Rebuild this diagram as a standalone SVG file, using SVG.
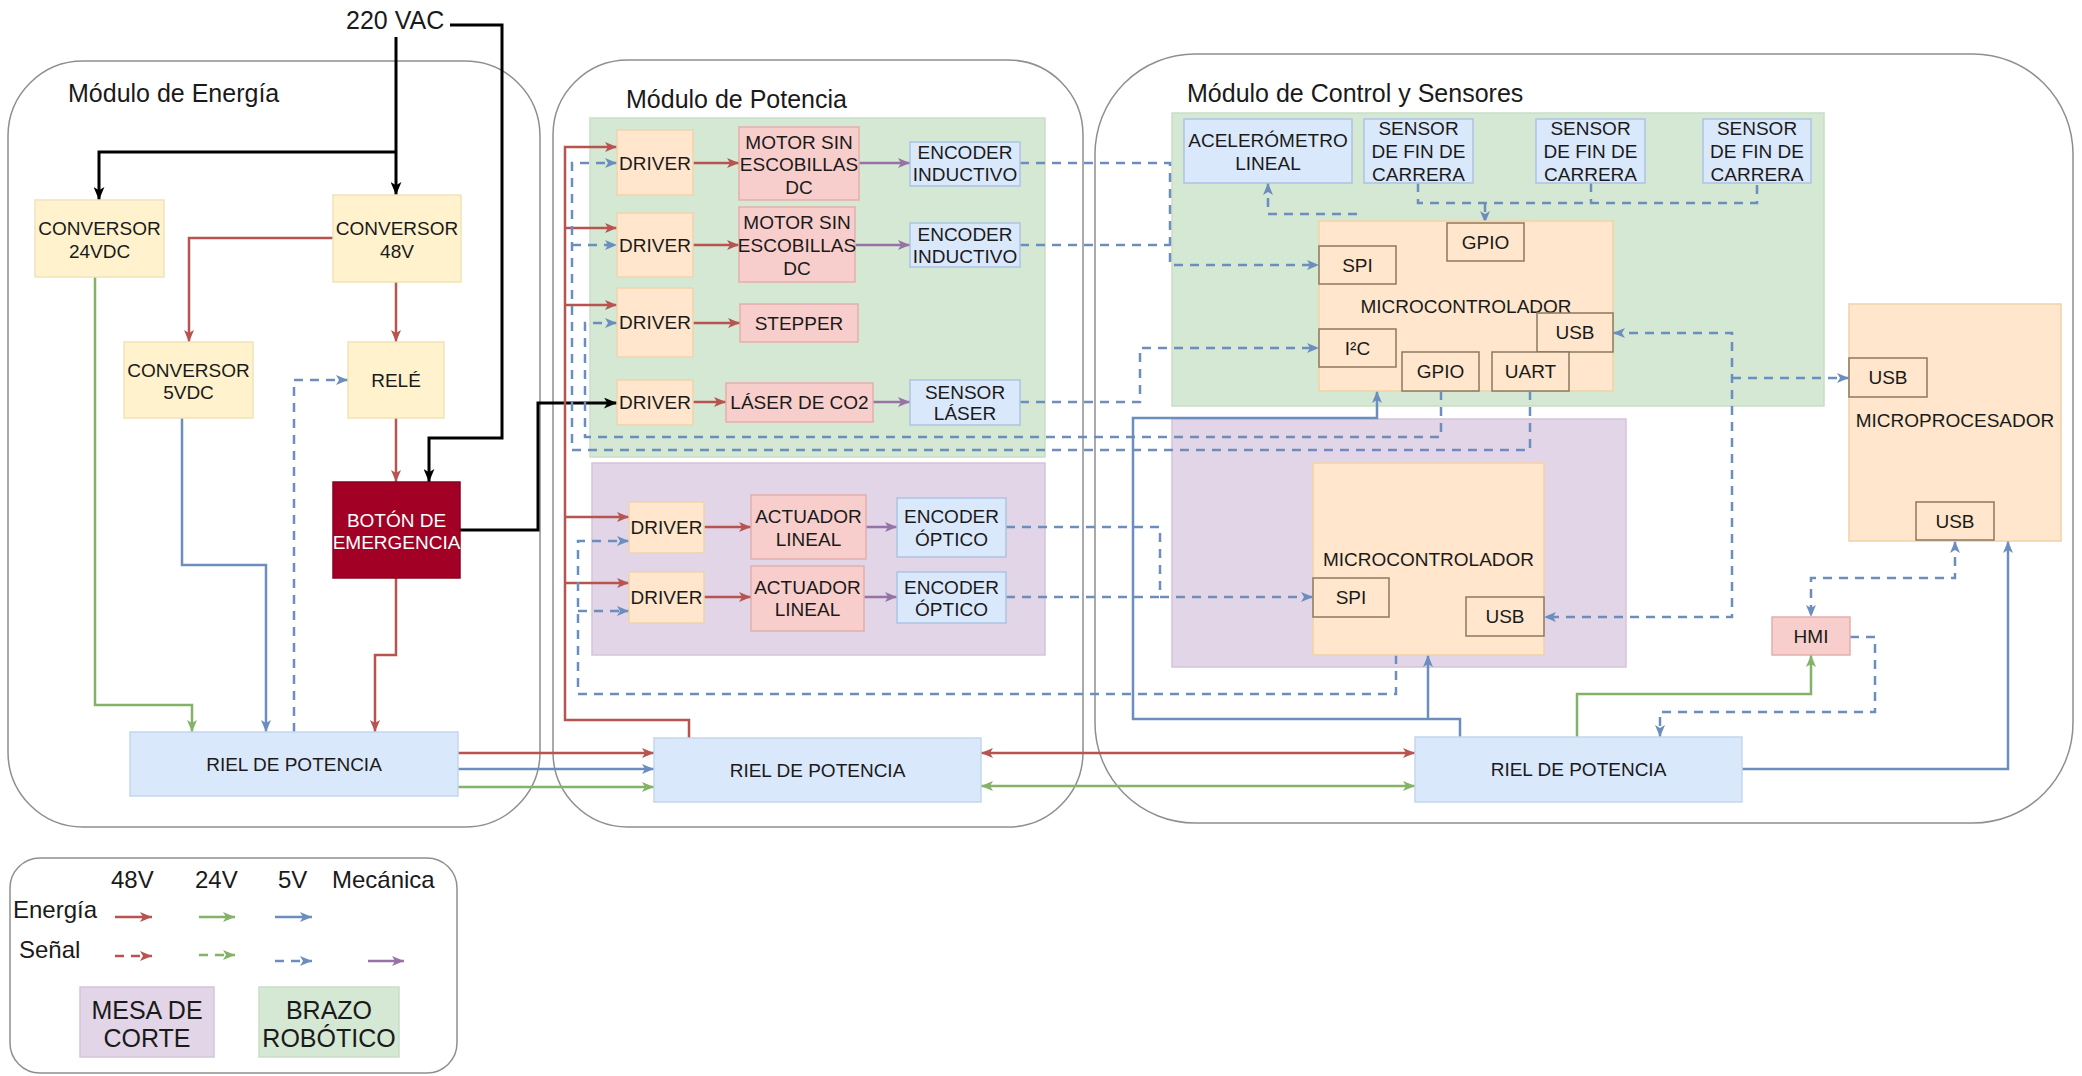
<svg xmlns="http://www.w3.org/2000/svg" width="2082" height="1076" viewBox="0 0 2082 1076">
<defs>
<style>
.mod{fill:#fff;stroke:#8f8f8f;stroke-width:1.5}
.t{font-family:"Liberation Sans",Arial,Helvetica,sans-serif;font-size:19px;fill:#1a1a1a;text-anchor:middle}
.ttl{font-family:"Liberation Sans",Arial,Helvetica,sans-serif;font-size:25px;fill:#1a1a1a}
.lg{font-family:"Liberation Sans",Arial,Helvetica,sans-serif;font-size:24px;fill:#1a1a1a}
.lb{font-family:"Liberation Sans",Arial,Helvetica,sans-serif;font-size:25px;fill:#1a1a1a;text-anchor:middle}
.conv{fill:#fff2cc;stroke:#f1e2b8;stroke-width:1.5}
.drv{fill:#ffe6cc;stroke:#f0d3ae;stroke-width:1.5}
.mot{fill:#f8cecc;stroke:#e3aeab;stroke-width:1.5}
.enc{fill:#dae8fc;stroke:#adc3e2;stroke-width:1.5}
.riel{fill:#dae8fc;stroke:#c4d6ee;stroke-width:1.5}
.big{fill:#ffe6cc;stroke:#f2d2a6;stroke-width:1.5}
.port{fill:#ffe6cc;stroke:#8c7860;stroke-width:1.5}
.ga{fill:#d5e8d4;stroke:#c8dec6;stroke-width:1.5}
.pa{fill:#e1d5e7;stroke:#d3c4db;stroke-width:1.5}
.ln{fill:none;stroke-width:2.5;stroke-linejoin:miter}
.r{stroke:#b85450}
.g{stroke:#82b366}
.b{stroke:#6c8ebf}
.p{stroke:#9673a6}
.k{stroke:#000;stroke-width:3}
.d{stroke-dasharray:9 7}
</style>
<marker id="ar" viewBox="0 0 12 10" refX="12" refY="5" markerWidth="12" markerHeight="10" markerUnits="userSpaceOnUse" orient="auto-start-reverse"><path d="M0,0 L12,5 L0,10 L3,5 Z" fill="#b85450"/></marker>
<marker id="ag" viewBox="0 0 12 10" refX="12" refY="5" markerWidth="12" markerHeight="10" markerUnits="userSpaceOnUse" orient="auto-start-reverse"><path d="M0,0 L12,5 L0,10 L3,5 Z" fill="#82b366"/></marker>
<marker id="ab" viewBox="0 0 12 10" refX="12" refY="5" markerWidth="12" markerHeight="10" markerUnits="userSpaceOnUse" orient="auto-start-reverse"><path d="M0,0 L12,5 L0,10 L3,5 Z" fill="#6c8ebf"/></marker>
<marker id="ap" viewBox="0 0 12 10" refX="12" refY="5" markerWidth="12" markerHeight="10" markerUnits="userSpaceOnUse" orient="auto-start-reverse"><path d="M0,0 L12,5 L0,10 L3,5 Z" fill="#9673a6"/></marker>
<marker id="ak" viewBox="0 0 12 10" refX="12" refY="5" markerWidth="13" markerHeight="11" markerUnits="userSpaceOnUse" orient="auto-start-reverse"><path d="M0,0 L12,5 L0,10 L3,5 Z" fill="#000"/></marker>
</defs>
<rect width="2082" height="1076" fill="#fff"/>

<!-- Modules -->
<g id="modulo-energia">
<rect class="mod" x="8" y="61" width="532" height="766" rx="75"/>
<text class="ttl" x="68" y="102">Módulo de Energía</text>
</g>
<g id="modulo-potencia">
<rect class="mod" x="553" y="60" width="530" height="767" rx="75"/>
<text class="ttl" x="626" y="108">Módulo de Potencia</text>
</g>
<g id="modulo-control">
<rect class="mod" x="1095" y="54" width="978" height="769" rx="100"/>
<text class="ttl" x="1187" y="102">Módulo de Control y Sensores</text>
</g>
<g id="area-brazo-potencia"><rect class="ga" x="590" y="118" width="455" height="339"/></g>
<g id="area-mesa-potencia"><rect class="pa" x="592" y="463" width="453" height="192"/></g>
<g id="area-brazo-control"><rect class="ga" x="1172" y="113" width="652" height="293"/></g>
<g id="area-mesa-control"><rect class="pa" x="1172" y="419" width="454" height="248"/></g>

<text id="label-220vac" class="ttl" x="346" y="29">220 VAC</text>

<!-- Connectors -->
<g id="connectors">
<!-- 220 VAC -->
<path class="ln k" d="M396,37 V195" marker-end="url(#ak)"/>
<path class="ln k" d="M396,152 H99 V200" marker-end="url(#ak)"/>
<path class="ln k" d="M450,25 H502 V438 H429 V482" marker-end="url(#ak)"/>
<path class="ln k" d="M460,530 H538 V403 H617" marker-end="url(#ak)"/>
<!-- Energia -->
<path class="ln r" d="M333,238 H189 V342" marker-end="url(#ar)"/>
<path class="ln r" d="M396,282 V342" marker-end="url(#ar)"/>
<path class="ln r" d="M396,418 V482" marker-end="url(#ar)"/>
<path class="ln r" d="M396,578 V655 H375 V732" marker-end="url(#ar)"/>
<path class="ln g" d="M95,277 V705 H192 V732" marker-end="url(#ag)"/>
<path class="ln b" d="M182,418 V565 H266 V732" marker-end="url(#ab)"/>
<path class="ln b d" d="M294,732 V380 H348" marker-end="url(#ab)"/>
<!-- Rieles -->
<path class="ln r" d="M458,753 H654" marker-end="url(#ar)"/>
<path class="ln b" d="M458,769 H654" marker-end="url(#ab)"/>
<path class="ln g" d="M458,787 H654" marker-end="url(#ag)"/>
<path class="ln r" d="M981,753 H1415" marker-start="url(#ar)" marker-end="url(#ar)"/>
<path class="ln g" d="M981,786 H1415" marker-start="url(#ag)" marker-end="url(#ag)"/>
<!-- Potencia power -->
<path class="ln r" d="M689,738 V720 H565 V147 H617" marker-end="url(#ar)"/>
<path class="ln r" d="M565,228 H617" marker-end="url(#ar)"/>
<path class="ln r" d="M565,305 H617" marker-end="url(#ar)"/>
<path class="ln r" d="M565,517 H629" marker-end="url(#ar)"/>
<path class="ln r" d="M565,583 H629" marker-end="url(#ar)"/>
<!-- Driver to actuator -->
<path class="ln r" d="M693,163 H739" marker-end="url(#ar)"/>
<path class="ln r" d="M693,245 H739" marker-end="url(#ar)"/>
<path class="ln r" d="M693,323 H740" marker-end="url(#ar)"/>
<path class="ln r" d="M693,402 H726" marker-end="url(#ar)"/>
<path class="ln r" d="M704,527 H751" marker-end="url(#ar)"/>
<path class="ln r" d="M704,597 H751" marker-end="url(#ar)"/>
<!-- Mechanical -->
<path class="ln p" d="M859,163 H910" marker-end="url(#ap)"/>
<path class="ln p" d="M855,245 H910" marker-end="url(#ap)"/>
<path class="ln p" d="M873,402 H910" marker-end="url(#ap)"/>
<path class="ln p" d="M866,527 H897" marker-end="url(#ap)"/>
<path class="ln p" d="M864,597 H897" marker-end="url(#ap)"/>
<!-- Signals to drivers -->
<path class="ln b d" d="M1530,391 V450 H572 V163 H617" marker-end="url(#ab)"/>
<path class="ln b d" d="M572,245 H617" marker-end="url(#ab)"/>
<path class="ln b d" d="M1441,391 V437 H585 V323 H617" marker-end="url(#ab)"/>
<path class="ln b d" d="M1396,655 V694 H578 V541 H629" marker-end="url(#ab)"/>
<path class="ln b d" d="M578,611 H629" marker-end="url(#ab)"/>
<!-- Sensor signals -->
<path class="ln b d" d="M1020,163 H1170 V265 H1319" marker-end="url(#ab)"/>
<path class="ln b d" d="M1020,245 H1170"/>
<path class="ln b d" d="M1020,402 H1140 V348 H1319" marker-end="url(#ab)"/>
<path class="ln b d" d="M1006,527 H1160 V597 H1313" marker-end="url(#ab)"/>
<path class="ln b d" d="M1006,597 H1160"/>
<path class="ln b d" d="M1357,246 V214 H1268 V183" marker-end="url(#ab)"/>
<path class="ln b d" d="M1418,183 V203 H1757 V183"/>
<path class="ln b d" d="M1591,183 V203"/>
<path class="ln b d" d="M1485,203 V223" marker-end="url(#ab)"/>
<!-- USB -->
<path class="ln b d" d="M1613,333 H1732 V617 H1544" marker-start="url(#ab)" marker-end="url(#ab)"/>
<path class="ln b d" d="M1732,378 H1849" marker-end="url(#ab)"/>
<path class="ln b d" d="M1955,541 V578 H1811 V617" marker-start="url(#ab)" marker-end="url(#ab)"/>
<path class="ln b d" d="M1850,637 H1875 V712 H1660 V737" marker-end="url(#ab)"/>
<!-- Control power -->
<path class="ln b" d="M1460,737 V719 H1133 V418 H1377 V391" marker-end="url(#ab)"/>
<path class="ln b" d="M1428,719 V655" marker-end="url(#ab)"/>
<path class="ln b" d="M1742,769 H2008 V541" marker-end="url(#ab)"/>
<path class="ln g" d="M1577,737 V694 H1811 V655" marker-end="url(#ag)"/>
</g>

<!-- Energia nodes -->
<g id="conversor-24vdc"><rect class="conv" x="35" y="200" width="129" height="77"/><text class="t" x="99.5" y="235">CONVERSOR</text><text class="t" x="99.5" y="258">24VDC</text></g>
<g id="conversor-48v"><rect class="conv" x="333" y="195" width="128" height="87"/><text class="t" x="397" y="235">CONVERSOR</text><text class="t" x="397" y="258">48V</text></g>
<g id="conversor-5vdc"><rect class="conv" x="124" y="342" width="129" height="76"/><text class="t" x="188.5" y="377">CONVERSOR</text><text class="t" x="188.5" y="399">5VDC</text></g>
<g id="rele"><rect class="conv" x="348" y="342" width="96" height="76"/><text class="t" x="396" y="387">RELÉ</text></g>
<g id="boton-emergencia"><rect x="333" y="482" width="127" height="96" fill="#a20025" stroke="#8a0020" stroke-width="1.5"/><text class="t" x="396.5" y="527" style="fill:#fff">BOTÓN DE</text><text class="t" x="396.5" y="549" style="fill:#fff">EMERGENCIA</text></g>
<g id="riel-energia"><rect class="riel" x="130" y="732" width="328" height="64"/><text class="t" x="294" y="771">RIEL DE POTENCIA</text></g>

<!-- Potencia nodes -->
<g id="driver-1"><rect class="drv" x="617" y="130" width="76" height="65"/><text class="t" x="655" y="170">DRIVER</text></g>
<g id="driver-2"><rect class="drv" x="617" y="213" width="76" height="64"/><text class="t" x="655" y="252">DRIVER</text></g>
<g id="driver-3"><rect class="drv" x="617" y="288" width="76" height="69"/><text class="t" x="655" y="329">DRIVER</text></g>
<g id="driver-4"><rect class="drv" x="617" y="380" width="76" height="45"/><text class="t" x="655" y="409">DRIVER</text></g>
<g id="motor-1"><rect class="mot" x="739" y="127" width="120" height="73"/><text class="t" x="799" y="149">MOTOR SIN</text><text class="t" x="799" y="171">ESCOBILLAS</text><text class="t" x="799" y="194">DC</text></g>
<g id="motor-2"><rect class="mot" x="739" y="207" width="116" height="75"/><text class="t" x="797" y="229">MOTOR SIN</text><text class="t" x="797" y="252">ESCOBILLAS</text><text class="t" x="797" y="275">DC</text></g>
<g id="stepper"><rect class="mot" x="740" y="304" width="118" height="38"/><text class="t" x="799" y="330">STEPPER</text></g>
<g id="laser-co2"><rect class="mot" x="726" y="383" width="147" height="39"/><text class="t" x="799.5" y="409">LÁSER DE CO2</text></g>
<g id="encoder-inductivo-1"><rect class="enc" x="910" y="142" width="110" height="44"/><text class="t" x="965" y="159">ENCODER</text><text class="t" x="965" y="181">INDUCTIVO</text></g>
<g id="encoder-inductivo-2"><rect class="enc" x="910" y="223" width="110" height="44"/><text class="t" x="965" y="241">ENCODER</text><text class="t" x="965" y="263">INDUCTIVO</text></g>
<g id="sensor-laser"><rect class="enc" x="910" y="380" width="110" height="45"/><text class="t" x="965" y="399">SENSOR</text><text class="t" x="965" y="420">LÁSER</text></g>
<g id="driver-5"><rect class="drv" x="629" y="502" width="75" height="51"/><text class="t" x="666.5" y="534">DRIVER</text></g>
<g id="driver-6"><rect class="drv" x="629" y="572" width="75" height="51"/><text class="t" x="666.5" y="604">DRIVER</text></g>
<g id="actuador-1"><rect class="mot" x="751" y="495" width="115" height="64"/><text class="t" x="808.5" y="523">ACTUADOR</text><text class="t" x="808.5" y="546">LINEAL</text></g>
<g id="actuador-2"><rect class="mot" x="751" y="566" width="113" height="65"/><text class="t" x="807.5" y="594">ACTUADOR</text><text class="t" x="807.5" y="616">LINEAL</text></g>
<g id="encoder-optico-1"><rect class="enc" x="897" y="498" width="109" height="59"/><text class="t" x="951.5" y="523">ENCODER</text><text class="t" x="951.5" y="546">ÓPTICO</text></g>
<g id="encoder-optico-2"><rect class="enc" x="897" y="572" width="109" height="51"/><text class="t" x="951.5" y="594">ENCODER</text><text class="t" x="951.5" y="616">ÓPTICO</text></g>
<g id="riel-potencia"><rect class="riel" x="654" y="738" width="327" height="64"/><text class="t" x="817.5" y="777">RIEL DE POTENCIA</text></g>

<!-- Control nodes -->
<g id="acelerometro"><rect class="enc" x="1184" y="119" width="168" height="64"/><text class="t" x="1268" y="147">ACELERÓMETRO</text><text class="t" x="1268" y="170">LINEAL</text></g>
<g id="fin-carrera-1"><rect class="enc" x="1364" y="119" width="109" height="64"/><text class="t" x="1418.5" y="135">SENSOR</text><text class="t" x="1418.5" y="158">DE FIN DE</text><text class="t" x="1418.5" y="181">CARRERA</text></g>
<g id="fin-carrera-2"><rect class="enc" x="1536" y="119" width="109" height="64"/><text class="t" x="1590.5" y="135">SENSOR</text><text class="t" x="1590.5" y="158">DE FIN DE</text><text class="t" x="1590.5" y="181">CARRERA</text></g>
<g id="fin-carrera-3"><rect class="enc" x="1703" y="119" width="108" height="64"/><text class="t" x="1757" y="135">SENSOR</text><text class="t" x="1757" y="158">DE FIN DE</text><text class="t" x="1757" y="181">CARRERA</text></g>
<g id="microcontrolador-brazo">
<rect class="big" x="1319" y="221" width="294" height="170"/>
<text class="t" x="1466" y="313">MICROCONTROLADOR</text>
<rect class="port" x="1447" y="223" width="77" height="38"/><text class="t" x="1485.5" y="249">GPIO</text>
<rect class="port" x="1319" y="246" width="77" height="38"/><text class="t" x="1357.5" y="272">SPI</text>
<rect class="port" x="1537" y="313" width="76" height="39"/><text class="t" x="1575" y="339">USB</text>
<rect class="port" x="1319" y="329" width="77" height="38"/><text class="t" x="1357.5" y="355">I²C</text>
<rect class="port" x="1402" y="352" width="77" height="39"/><text class="t" x="1440.5" y="378">GPIO</text>
<rect class="port" x="1492" y="352" width="77" height="39"/><text class="t" x="1530.5" y="378">UART</text>
</g>
<g id="microcontrolador-mesa">
<rect class="big" x="1313" y="463" width="231" height="192"/>
<text class="t" x="1428.5" y="566">MICROCONTROLADOR</text>
<rect class="port" x="1313" y="578" width="76" height="39"/><text class="t" x="1351" y="604">SPI</text>
<rect class="port" x="1466" y="597" width="78" height="39"/><text class="t" x="1505" y="623">USB</text>
</g>
<g id="microprocesador">
<rect class="big" x="1849" y="304" width="212" height="237"/>
<text class="t" x="1955" y="427">MICROPROCESADOR</text>
<rect class="port" x="1849" y="358" width="78" height="39"/><text class="t" x="1888" y="384">USB</text>
<rect class="port" x="1916" y="502" width="78" height="38"/><text class="t" x="1955" y="528">USB</text>
</g>
<g id="hmi"><rect class="mot" x="1772" y="617" width="78" height="38"/><text class="t" x="1811" y="643">HMI</text></g>
<g id="riel-control"><rect class="riel" x="1415" y="737" width="327" height="65"/><text class="t" x="1578.5" y="776">RIEL DE POTENCIA</text></g>

<!-- Legend -->
<g id="leyenda">
<rect class="mod" x="10" y="858" width="447" height="215" rx="30"/>
<text class="lg" x="111" y="888">48V</text>
<text class="lg" x="195" y="888">24V</text>
<text class="lg" x="278" y="888">5V</text>
<text class="lg" x="332" y="888">Mecánica</text>
<text class="lg" x="13" y="918">Energía</text>
<text class="lg" x="19" y="958">Señal</text>
<path class="ln r" d="M115,917 H152" marker-end="url(#ar)"/>
<path class="ln g" d="M199,917 H235" marker-end="url(#ag)"/>
<path class="ln b" d="M275,917 H312" marker-end="url(#ab)"/>
<path class="ln r d" d="M115,956 H152" marker-end="url(#ar)"/>
<path class="ln g d" d="M199,955 H235" marker-end="url(#ag)"/>
<path class="ln b d" d="M275,961 H312" marker-end="url(#ab)"/>
<path class="ln p" d="M368,961 H404" marker-end="url(#ap)"/>
<rect class="pa" x="80" y="987" width="134" height="70"/>
<text class="lb" x="147" y="1019">MESA DE</text>
<text class="lb" x="147" y="1047">CORTE</text>
<rect class="ga" x="259" y="987" width="140" height="70"/>
<text class="lb" x="329" y="1019">BRAZO</text>
<text class="lb" x="329" y="1047">ROBÓTICO</text>
</g>
</svg>
